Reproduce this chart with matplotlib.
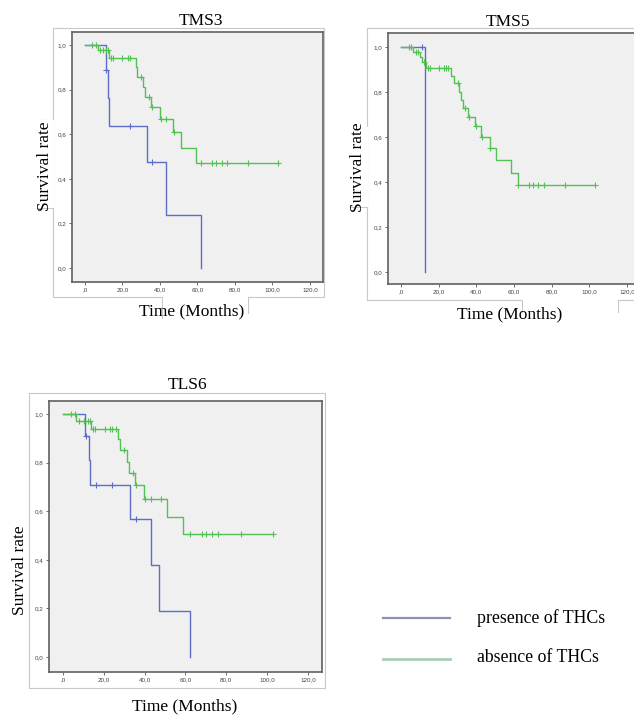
import numpy as np
import matplotlib
matplotlib.use('Agg')
import matplotlib.pyplot as plt
from matplotlib.lines import Line2D
from matplotlib.patches import Rectangle

W, H = 634, 716

# ---------------- data (Kaplan-Meier step curves) ----------------
# TMS3
tms3_pres_t = [0, 11, 12, 13, 33, 43, 62]
tms3_pres_s = [1.0, 0.889, 0.762, 0.635, 0.476, 0.238, 0.0]
tms3_pres_c = [11, 24, 36]
tms3_abs_t = [0, 7, 13, 27, 28, 31, 32, 35, 40, 47, 51, 59]
tms3_abs_s = [1.0, 0.976, 0.943, 0.90, 0.857, 0.81, 0.767, 0.72, 0.667, 0.61, 0.54, 0.472]
tms3_abs_c = [3.5, 6, 8, 9.5, 11, 12.5, 14, 15, 20, 23, 24, 30, 34, 35.6, 40.5, 43,
              47.5, 62, 68, 70, 73, 76, 87, 103]
tms3_abs_end = 103

# TMS5
tms5_pres_t = [0, 13]
tms5_pres_s = [1.0, 0.0]
tms5_pres_c = [11]
tms5_abs_t = [0, 6.5, 10, 11, 13.5, 26.5, 28, 31, 32, 33, 35.4, 39.3, 42.5, 47, 50.5, 58.4, 62]
tms5_abs_s = [1.0, 0.979, 0.957, 0.935, 0.908, 0.871, 0.841, 0.801, 0.764, 0.727, 0.69,
              0.648, 0.601, 0.552, 0.497, 0.442, 0.386]
tms5_abs_c = [4, 5.5, 8, 9, 12, 14.5, 15.5, 20, 23, 24, 25, 30, 34, 36, 40, 43, 47.5,
              62, 68, 70, 73, 76, 87, 103]
tms5_abs_end = 103

# TLS6
tls6_pres_t = [0, 11, 12.6, 13.2, 33, 43, 47, 62]
tls6_pres_s = [1.0, 0.909, 0.81, 0.707, 0.566, 0.378, 0.189, 0.0]
tls6_pres_c = [11.4, 16, 24, 36]
tls6_abs_t = [0, 6.5, 13.9, 27.1, 28.1, 31.2, 32.2, 35.4, 39.7, 51.1, 58.6]
tls6_abs_s = [1.0, 0.973, 0.94, 0.896, 0.851, 0.802, 0.757, 0.707, 0.65, 0.578, 0.508]
tls6_abs_c = [4, 6, 8, 10.3, 12, 13, 14.7, 15.8, 20.4, 23.2, 24.2, 26, 30, 34.2, 35.8,
              40, 43, 48, 62, 68, 70, 73, 76, 87, 103]
tls6_abs_end = 103

x_ticks = [0, 20, 40, 60, 80, 100, 120]
x_tick_labels = [",0", "20,0", "40,0", "60,0", "80,0", "100,0", "120,0"]
y_ticks = [0.0, 0.2, 0.4, 0.6, 0.8, 1.0]
y_tick_labels = ["0,0", "0,2", "0,4", "0,6", "0,8", "1,0"]

legend_labels = ["presence of THCs", "absence of THCs"]

# ---------------- style ----------------
BLUE = "#5d6cc6"
GREEN = "#52c252"
FRAME = "#c8c8c8"
SERIF = ["Liberation Serif", "DejaVu Serif"]
SANS = ["Liberation Sans", "DejaVu Sans"]

fig = plt.figure(figsize=(W / 100, H / 100), dpi=100)
fig.patch.set_facecolor("white")


def fx(x):
    return x / W


def fy(y):
    return 1 - y / H


def fline(xs, ys, color=FRAME, lw=0.8, z=1):
    fig.add_artist(Line2D([fx(x) for x in xs], [fy(y) for y in ys],
                          color=color, lw=lw, zorder=z, transform=fig.transFigure))


def frect(x0, y0, x1, y1, fc="white", z=2):
    fig.add_artist(Rectangle((fx(x0), fy(y1)), (x1 - x0) / W, (y1 - y0) / H,
                             facecolor=fc, edgecolor="none", zorder=z,
                             transform=fig.transFigure))


def make_axes(frame, xpx, ypx):
    # frame: pixel box; xpx: pixel x of 0 and 120; ypx: pixel y of 0.0 and 1.0
    x0, y0, x1, y1 = frame
    ax = fig.add_axes([fx(x0), fy(y1), (x1 - x0) / W, (y1 - y0) / H])
    sx = (xpx[1] - xpx[0]) / 120.0
    sy = float(ypx[0] - ypx[1])
    ax.set_xlim((x0 - xpx[0]) / sx, (x1 - xpx[0]) / sx)
    ax.set_ylim((ypx[0] - y1) / sy, (ypx[0] - y0) / sy)
    ax.set_facecolor("#f0f0f0")
    for s in ax.spines.values():
        s.set_color("#606060")
        s.set_linewidth(1.2)
    ax.set_xticks(x_ticks)
    ax.set_xticklabels(x_tick_labels, fontsize=4.5, family=SANS, color="#444444")
    ax.set_yticks(y_ticks)
    ax.set_yticklabels(y_tick_labels, fontsize=4.5, family=SANS, color="#444444")
    ax.tick_params(length=2, width=0.6, color="#555555", pad=2)
    return ax


def km(ax, t, s, cens, color, end=None):
    t = list(t)
    s = list(s)
    if end is not None:
        t = t + [end]
        s = s + [s[-1]]
    ax.step(t, s, where="post", color=color, lw=1.0)
    tt = np.array(t)
    ss = np.array(s)
    cy = [ss[np.searchsorted(tt, c, side="right") - 1] for c in cens]
    ax.plot(cens, cy, ls="none", marker="+", ms=4, mew=0.8, color=color)


# ---------------- TMS3 ----------------
ax1 = make_axes((72, 32, 323, 282), (85, 310), (268, 45))
km(ax1, tms3_pres_t, tms3_pres_s, tms3_pres_c, BLUE)
km(ax1, tms3_abs_t, tms3_abs_s, tms3_abs_c, GREEN, tms3_abs_end)

fline([53, 324, 324, 53, 53], [28, 28, 297, 297, 28])
frect(34, 120, 54, 208)
fline([38, 53], [120, 120])
fline([38, 53], [208, 208])
frect(162.5, 296, 247.5, 322)
fline([162, 162], [297, 318])
fline([248, 248, 237], [297, 313, 313])
fig.text(fx(201), fy(21), "TMS3", ha="center", va="center", fontsize=12.5, family=SERIF, zorder=5)
fig.text(fx(45), fy(166), "Survival rate", rotation=90, ha="center", va="center",
         fontsize=12.5, family=SERIF, zorder=5)
fig.text(fx(192), fy(311), "Time (Months)", ha="center", va="center", fontsize=12.5,
         family=SERIF, zorder=5)

# ---------------- TMS5 ----------------
ax2 = make_axes((388, 33, 641, 284), (401, 627), (272, 47))
km(ax2, tms5_pres_t, tms5_pres_s, tms5_pres_c, BLUE)
km(ax2, tms5_abs_t, tms5_abs_s, tms5_abs_c, GREEN, tms5_abs_end)

fline([640, 367, 367, 640], [28, 28, 300, 300])
frect(346, 127, 368, 207)
fline([350, 367], [127, 127])
fline([350, 367], [207, 207])
frect(522.5, 299, 617.5, 322)
fline([522, 522], [300, 312])
fline([618, 618, 563], [300, 312, 312])
fig.text(fx(508), fy(22), "TMS5", ha="center", va="center", fontsize=12.5, family=SERIF, zorder=5)
fig.text(fx(358), fy(167), "Survival rate", rotation=90, ha="center", va="center",
         fontsize=12.5, family=SERIF, zorder=5)
fig.text(fx(510), fy(314), "Time (Months)", ha="center", va="center", fontsize=12.5,
         family=SERIF, zorder=5)

# ---------------- TLS6 ----------------
ax3 = make_axes((49, 401, 322, 672), (63, 308), (657, 414))
km(ax3, tls6_pres_t, tls6_pres_s, tls6_pres_c, BLUE)
km(ax3, tls6_abs_t, tls6_abs_s, tls6_abs_c, GREEN, tls6_abs_end)

fline([29, 325, 325, 29, 29], [393, 393, 688, 688, 393])
fig.text(fx(188), fy(385), "TLS6", ha="center", va="center", fontsize=12.5, family=SERIF, zorder=5)
fig.text(fx(20), fy(570), "Survival rate", rotation=90, ha="center", va="center",
         fontsize=12.5, family=SERIF, zorder=5)
fig.text(fx(185), fy(706), "Time (Months)", ha="center", va="center", fontsize=12.5,
         family=SERIF, zorder=5)

# ---------------- legend ----------------
fline([383, 450], [618, 618], color="#8a92b6", lw=1.6, z=3)
fline([383, 450], [659, 659], color="#a9cdb3", lw=2.0, z=3)
fig.text(fx(477), fy(618), legend_labels[0], ha="left", va="center", fontsize=12.8,
         family=SERIF, zorder=5)
fig.text(fx(477), fy(657), legend_labels[1], ha="left", va="center", fontsize=12.8,
         family=SERIF, zorder=5)

fig.savefig("out.png", dpi=100, facecolor="white")
